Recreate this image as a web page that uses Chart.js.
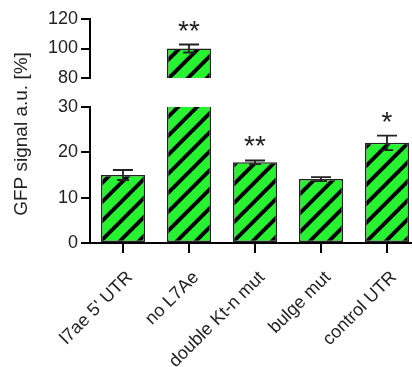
<!DOCTYPE html>
<html>
<head>
<meta charset="utf-8">
<script src="https://cdn.jsdelivr.net/npm/chart.js@4"></script>
<style>
    html, body { margin: 0; padding: 0; background: #fff; overflow: hidden; }
</style>
</head>
<body>
<canvas id="gfpChart" width="420" height="367"></canvas>
<script>
// データ
const categories = ["l7ae 5' UTR", 'no L7Ae', 'double Kt-n mut', 'bulge mut', 'control UTR'];
const gfpSignal = [15.0, 100.0, 17.8, 14.1, 22.1];
const gfpError = [1.1, 2.7, 0.4, 0.45, 1.6];
const significance = ['', '**', '**', '', '*'];
const lowerTicks = [0, 10, 20, 30];
const upperTicks = [80, 100, 120];

const lowerMax = lowerTicks[lowerTicks.length - 1];
const upperMin = upperTicks[0];
const textColor = '#222';
const fontFamily = 'Arial, "Liberation Sans", sans-serif';

// 緑＋斜線のパターン
function makeHatch() {
    const size = 19;
    const c = document.createElement('canvas');
    c.width = size;
    c.height = size;
    const g = c.getContext('2d');
    g.fillStyle = '#26f230';
    g.fillRect(0, 0, size, size);
    g.strokeStyle = '#000';
    g.lineWidth = 4;
    g.beginPath();
    for (let k = -1; k <= 1; k++) {
        g.moveTo(k * size - 1, size + 1);
        g.lineTo(k * size + size + 1, -1);
    }
    g.stroke();
    return g.createPattern(c, 'repeat');
}
const hatch = makeHatch();

// エラーバーと有意差マーク
const errorBarPlugin = {
    id: 'errorBars',
    afterDatasetsDraw(chart) {
        const ctx = chart.ctx;
        const xScale = chart.scales.x;
        ctx.save();
        ctx.strokeStyle = textColor;
        ctx.lineWidth = 1.8;
        gfpSignal.forEach((v, i) => {
            const yScale = v > lowerMax ? chart.scales.yHigh : chart.scales.yLow;
            const cx = xScale.getPixelForValue(i);
            const top = yScale.getPixelForValue(v + gfpError[i]);
            const bot = yScale.getPixelForValue(v - gfpError[i]);
            ctx.beginPath();
            ctx.moveTo(cx, top);
            ctx.lineTo(cx, bot);
            ctx.moveTo(cx - 10, top);
            ctx.lineTo(cx + 10, top);
            ctx.moveTo(cx - 6, bot);
            ctx.lineTo(cx + 6, bot);
            ctx.stroke();

            if (significance[i]) {
                ctx.fillStyle = textColor;
                ctx.font = '28px ' + fontFamily;
                ctx.textAlign = 'center';
                ctx.textBaseline = 'alphabetic';
                ctx.fillText(significance[i], cx, top - 5);
            }
        });
        ctx.restore();
    }
};

// 縦軸タイトル（分割軸全体の中央）
const axisTitlePlugin = {
    id: 'axisTitle',
    afterDraw(chart) {
        const ctx = chart.ctx;
        const area = chart.chartArea;
        ctx.save();
        ctx.translate(22, (area.top + area.bottom) / 2 + 3);
        ctx.rotate(-Math.PI / 2);
        ctx.fillStyle = textColor;
        ctx.font = '19px ' + fontFamily;
        ctx.textAlign = 'center';
        ctx.textBaseline = 'middle';
        ctx.fillText('GFP signal a.u. [%]', 0, 0);
        ctx.restore();
    }
};

const axisGrid = {
    display: true,
    drawOnChartArea: false,
    drawTicks: true,
    tickLength: 9,
    color: '#000',
    lineWidth: 2
};
const axisBorder = { display: true, color: '#000', width: 2 };

const ctx = document.getElementById('gfpChart').getContext('2d');
const gfpChart = new Chart(ctx, {
    type: 'bar',
    data: {
        labels: categories,
        datasets: [
            {
                label: 'lower',
                data: gfpSignal.map(v => Math.min(v, lowerMax)),
                yAxisID: 'yLow',
                backgroundColor: hatch,
                borderColor: textColor,
                borderWidth: 1.5,
                borderSkipped: c => gfpSignal[c.dataIndex] > lowerMax ? 'top' : false,
                grouped: false,
                barPercentage: 0.667,
                categoryPercentage: 1
            },
            {
                label: 'upper',
                data: gfpSignal.map(v => v > upperMin ? [upperMin, v] : null),
                yAxisID: 'yHigh',
                backgroundColor: hatch,
                borderColor: textColor,
                borderWidth: 1.5,
                borderSkipped: 'start',
                grouped: false,
                barPercentage: 0.667,
                categoryPercentage: 1
            }
        ]
    },
    options: {
        responsive: false,
        animation: false,
        devicePixelRatio: 1,
        layout: { padding: { top: 19, left: 0, right: 0, bottom: 0 } },
        plugins: {
            legend: { display: false },
            tooltip: { enabled: false }
        },
        scales: {
            x: {
                type: 'category',
                offset: true,
                grid: Object.assign({}, axisGrid, { tickLength: 10, offset: false }),
                border: axisBorder,
                ticks: {
                    minRotation: 45,
                    maxRotation: 45,
                    autoSkip: false,
                    padding: 14,
                    labelOffset: 7,
                    color: textColor,
                    font: { family: fontFamily, size: 18 }
                },
                afterFit: s => { s.height = 124; }
            },
            yHigh: {
                type: 'linear',
                position: 'left',
                stack: 'gfp',
                stackWeight: 59,
                weight: 3,
                min: upperMin,
                max: upperTicks[upperTicks.length - 1],
                grid: axisGrid,
                border: axisBorder,
                ticks: {
                    stepSize: upperTicks[1] - upperTicks[0],
                    autoSkip: false,
                    padding: 3,
                    color: textColor,
                    font: { family: fontFamily, size: 18 }
                },
                afterFit: s => { s.width = 90; }
            },
            yGap: {
                type: 'linear',
                position: 'left',
                stack: 'gfp',
                stackWeight: 29,
                weight: 2,
                display: false
            },
            yLow: {
                type: 'linear',
                position: 'left',
                stack: 'gfp',
                stackWeight: 136,
                weight: 1,
                min: lowerTicks[0],
                max: lowerMax,
                grid: axisGrid,
                border: axisBorder,
                ticks: {
                    stepSize: lowerTicks[1] - lowerTicks[0],
                    autoSkip: false,
                    padding: 3,
                    color: textColor,
                    font: { family: fontFamily, size: 18 }
                },
                afterFit: s => { s.width = 90; }
            }
        }
    },
    plugins: [errorBarPlugin, axisTitlePlugin]
});
</script>
</body>
</html>
